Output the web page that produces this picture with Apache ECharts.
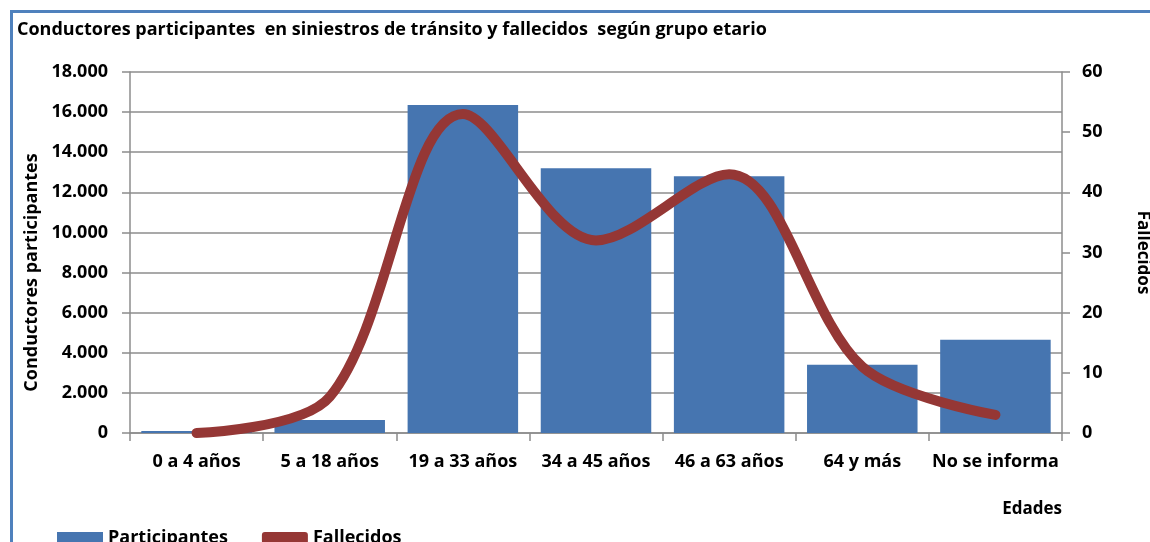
<!DOCTYPE html>
<html>
<head>
<meta charset="utf-8">
<script src="https://cdn.jsdelivr.net/npm/echarts@6/dist/echarts.min.js"></script>
<style>
  html, body { margin: 0; padding: 0; background: #fff; overflow: hidden; }
  #frame { position: absolute; left: 10px; top: 10px; width: 1200px; height: 600px;
           border: 3px solid #4F81BD; box-sizing: border-box; }
  #chart { position: absolute; left: 0; top: 0; width: 1150px; height: 542px; }
</style>
</head>
<body>
<div id="frame"></div>
<div id="chart"></div>
<script>
// categorías y valores
const edades = ['0 a 4 años', '5 a 18 años', '19 a 33 años', '34 a 45 años', '46 a 63 años', '64 y más', 'No se informa']
const participantes = [100, 650, 16350, 13200, 12800, 3400, 4650]
const fallecidos = [0, 6, 53, 32, 43, 11, 3]

const fuente = 'Open Sans'
const negro = '#000'
const gris = '#8c8c8c'

const chartDom = document.getElementById('chart')
const myChart = echarts.init(chartDom)

const option = {
  animation: false,
  title: {
    text: 'Conductores participantes  en siniestros de tránsito y fallecidos  según grupo etario',
    left: 12,
    top: 16,
    textStyle: { fontFamily: fuente, fontWeight: 'bold', fontSize: 18, color: negro }
  },
  legend: {
    left: 52,
    top: 524,
    itemWidth: 46,
    itemHeight: 12,
    itemGap: 34,
    textStyle: { fontFamily: fuente, fontWeight: 'bold', fontSize: 18, color: negro },
    data: [
      { name: 'Participantes', icon: 'rect' },
      { name: 'Fallecidos', icon: 'roundRect' }
    ]
  },
  grid: { left: 130, right: 88, top: 72, bottom: 109, outerBoundsMode: 'none', containLabel: false },
  xAxis: {
    type: 'category',
    data: edades,
    name: 'Edades',
    nameLocation: 'end',
    nameGap: 0,
    nameTextStyle: {
      fontFamily: fuente, fontWeight: 'bold', fontSize: 17, color: negro,
      align: 'right', verticalAlign: 'top', padding: [68, 0, 0, 0]
    },
    axisLine: { lineStyle: { color: gris, width: 1.5 } },
    axisTick: { show: true, length: 8, lineStyle: { color: gris, width: 1.5 } },
    axisLabel: { interval: 0, fontFamily: fuente, fontWeight: 'bold', fontSize: 18, color: negro, margin: 20 }
  },
  yAxis: [
    {
      type: 'value',
      min: 0,
      max: 18000,
      interval: 2000,
      name: 'Conductores participantes',
      nameLocation: 'middle',
      nameGap: 89,
      nameTextStyle: { fontFamily: fuente, fontWeight: 'bold', fontSize: 18, color: negro, padding: [0, 40, 0, 0] },
      axisLine: { show: true, lineStyle: { color: gris, width: 1.5 } },
      axisTick: { show: true, length: 8, lineStyle: { color: gris, width: 1.5 } },
      splitLine: { lineStyle: { color: gris, width: 1.5 } },
      axisLabel: {
        fontFamily: fuente, fontWeight: 'bold', fontSize: 18, color: negro, margin: 22,
        formatter: v => v.toString().replace(/\B(?=(\d{3})+(?!\d))/g, '.')
      }
    },
    {
      type: 'value',
      min: 0,
      max: 60,
      interval: 10,
      position: 'right',
      name: 'Fallecidos',
      nameLocation: 'middle',
      nameGap: 72,
      nameRotate: -90,
      nameTextStyle: { fontFamily: fuente, fontWeight: 'bold', fontSize: 17, color: negro },
      axisLine: { show: true, lineStyle: { color: gris, width: 1.5 } },
      axisTick: { show: true, length: 8, lineStyle: { color: gris, width: 1.5 } },
      splitLine: { show: false },
      axisLabel: { fontFamily: fuente, fontWeight: 'bold', fontSize: 18, color: negro, margin: 20 }
    }
  ],
  series: [
    {
      name: 'Participantes',
      type: 'bar',
      data: participantes,
      barCategoryGap: '17%',
      itemStyle: { color: '#4675B0' }
    },
    {
      name: 'Fallecidos',
      type: 'line',
      yAxisIndex: 1,
      data: fallecidos,
      smooth: 0.33,
      showSymbol: false,
      symbol: 'none',
      itemStyle: { color: '#953735' },
      lineStyle: { color: '#953735', width: 10, cap: 'round', join: 'round' }
    }
  ]
}

option && myChart.setOption(option)
</script>
</body>
</html>
